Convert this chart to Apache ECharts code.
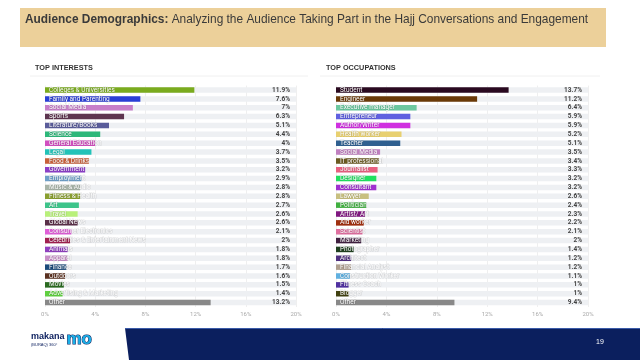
<!DOCTYPE html>
<html><head><meta charset="utf-8">
<script src="https://cdn.jsdelivr.net/npm/echarts@6/dist/echarts.min.js"></script>
<style>html,body{margin:0;padding:0;background:#fff}#c{width:640px;height:360px}</style>
</head><body><div id="c"></div>
<script>
const interestCats = ["Colleges & Universities","Family and Parenting","Social Media","Sports","Literature/Books","Science","General Education","Legal","Food & Drinks","Government","Employment","Music & Audio","Fitness & Health","Art","Travel","Global News","Consumer Electronics","Celebrities & Entertainment News","Animals","Apparel","Finance","Outdoors","Movies","Advertising & Marketing","Other"];
const interestVals = [11.9,7.6,7,6.3,5.1,4.4,4,3.7,3.5,3.2,2.9,2.8,2.8,2.7,2.6,2.6,2.1,2,1.8,1.8,1.7,1.6,1.5,1.4,13.2];
const interestColors = ["#7aab1e","#2a3fd6","#c77fc9","#5e3650","#5a5c9a","#2db87a","#d24fc0","#22c3b8","#c8603a","#8c3fc8","#6fa0c8","#a8b4a8","#8aa030","#3dc48a","#b8f07a","#5a3048","#e060d8","#a02050","#9040c0","#c890c8","#1a4a7a","#5a3020","#2a6a20","#60d040","#888888"];
const occCats = ["Student","Engineer","Executive manager","Entrepreneur","Author/Writer","Health worker","Teacher","Social Media","IT professional","Journalist","Designer","Consultant","Lawyer","Politician","Artist/ Art","Aid worker","Scientist","Marketing","Photographer","Architect","Financial Analyst","Construction Worker","Fitness Coach","Blogger","Other"];
const occVals = [13.7,11.2,6.4,5.9,5.9,5.2,5.1,3.5,3.4,3.3,3.2,3.2,2.6,2.4,2.3,2.2,2.1,2,1.4,1.2,1.2,1.1,1,1,9.4];
const occColors = ["#2a0a20","#6a3a08","#6cc8a0","#6060e0","#d030e0","#e8d070","#306090","#c080c0","#6a5a20","#e86080","#20e060","#a030d0","#c8c080","#40b040","#801880","#a03010","#e070a0","#402040","#204020","#503080","#b0a090","#60b0e0","#5030a0","#404010","#888888"];
const axisMax = 20, axisStep = 4;

const chart = echarts.init(document.getElementById('c'), null, {renderer:'canvas'});
function makeSeries(idx, cats, vals, colors){
  return [
    {type:'bar', xAxisIndex:idx, yAxisIndex:idx, barWidth:5.5, barGap:'-100%', silent:true,
     data: vals.map(()=>axisMax), itemStyle:{color:'#eef0f3'}, z:1,
     label:{show:true, position:'insideRight', distance:6, fontSize:6.5, color:'#444', fontWeight:'bold',
       fontFamily:'Roboto', formatter:p=>vals[p.dataIndex]+'%'}},
    {type:'bar', xAxisIndex:idx, yAxisIndex:idx, barWidth:5.5, barGap:'-100%', z:2,
     data: vals.map((v,i)=>({value:v, itemStyle:{color:colors[i]}})),
     label:{show:true, position:'insideLeft', distance:4, fontSize:6.5, color:'#fff', fontFamily:'Roboto',
       textBorderColor:'rgba(0,0,0,0.12)', textBorderWidth:1, formatter:p=>cats[p.dataIndex]}}
  ];
}
const xa = (g)=>({type:'value', gridIndex:g, min:0, max:axisMax, interval:axisStep,
  axisLabel:{formatter:'{value}%', fontSize:6, color:'#aaa', fontFamily:'Roboto', margin:4},
  axisLine:{show:false}, axisTick:{show:false}, splitLine:{lineStyle:{color:'#e8e8e8', width:0.7}}});
const ya = (g,cats)=>({type:'category', gridIndex:g, data:cats, inverse:true,
  axisLabel:{show:false}, axisLine:{show:false}, axisTick:{show:false}});

chart.setOption({
  animation:false,
  grid:[{left:45, width:251, top:85.6, height:221.4},{left:336, width:252, top:85.6, height:221.4}],
  xAxis:[xa(0), xa(1)],
  yAxis:[ya(0,interestCats), ya(1,occCats)],
  series:[...makeSeries(0,interestCats,interestVals,interestColors), ...makeSeries(1,occCats,occVals,occColors)],
  graphic:[
    {type:'rect', shape:{x:20,y:8,width:586,height:39}, style:{fill:'#ecd09a'}, z:-1},
    {type:'text', left:25, top:14, style:{rich:{b:{fontWeight:'bold',fontSize:11.9,fill:'#3a3a3a',fontFamily:'Liberation Sans'},n:{fontSize:11.9,fill:'#3a3a3a',fontFamily:'Liberation Sans'}},
      text:'{b|Audience Demographics:}{n| Analyzing the Audience Taking Part in the Hajj Conversations and Engagement}'}},
    {type:'text', left:35, top:64, style:{text:'TOP INTERESTS', fontSize:7.3, fontWeight:'bold', fill:'#333', fontFamily:'Liberation Sans'}},
    {type:'text', left:326, top:64, style:{text:'TOP OCCUPATIONS', fontSize:7.3, fontWeight:'bold', fill:'#333', fontFamily:'Liberation Sans'}},
    {type:'line', shape:{x1:30,y1:76,x2:308,y2:76}, style:{stroke:'#f0f0f0', lineWidth:1}},
    {type:'line', shape:{x1:320,y1:76,x2:600,y2:76}, style:{stroke:'#f0f0f0', lineWidth:1}},
    {type:'polygon', shape:{points:[[125,328],[640,328],[640,360],[129,360]]}, style:{fill:'#0b1f5e'}},
    {type:'line', shape:{x1:125,y1:328.5,x2:640,y2:328.5}, style:{stroke:'#3a5aa8', lineWidth:1}},
    {type:'text', left:596, top:339, style:{text:'19', fontSize:7, fill:'#fff', fontFamily:'Liberation Sans'}},
    {type:'text', left:31, top:332, style:{text:'makana', fontSize:9, fontWeight:'bold', fill:'#0b1f5e', fontFamily:'Liberation Sans'}},
    {type:'text', left:31, top:343, style:{text:'(BURAQ) 360°', fontSize:4, fill:'#0b1f5e', fontFamily:'Liberation Sans'}},
    {type:'text', left:66, top:330, style:{text:'mo', fontSize:17, fontWeight:'bold', fill:'#1ab0e8', stroke:'#0b1f5e', lineWidth:1, fontFamily:'Liberation Sans'}}
  ]
});
</script></body></html>
